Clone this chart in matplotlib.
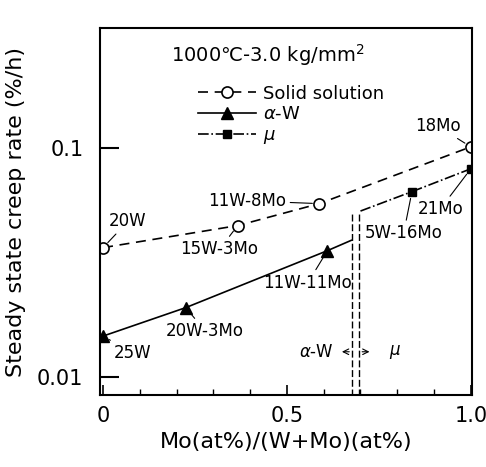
import matplotlib
matplotlib.use('Agg')
import matplotlib.pyplot as plt
import numpy as np

# solid solution (open circles, dashed)
ss_x = [0.0, 0.366, 0.588, 1.0]
ss_y = [0.0367, 0.0458, 0.0571, 0.101]
ss_lab = ['20W', '15W-3Mo', '11W-8Mo', '18Mo']

# alpha-W (filled triangles, solid)
aw_x = [0.0, 0.225, 0.61]
aw_y = [0.0151, 0.0201, 0.0356]
aw_lab = ['25W', '20W-3Mo', '11W-11Mo']
aw_end = (0.675, 0.0395)

# mu phase (filled squares, dash-dot)
mu_x = [0.84, 1.0]
mu_y = [0.0644, 0.081]
mu_lab = ['5W-16Mo', '21Mo']
mu_start = (0.70, 0.053)

# alpha-W / mu boundary
bnd_x = [0.677, 0.697]
bnd_top = 0.052

fig = plt.figure(figsize=(4.86, 4.67), dpi=100)
ax = fig.add_axes([0.206, 0.154, 0.765, 0.786])

ax.plot(ss_x, ss_y, 'k--', lw=1.2, dashes=(6, 4), marker='o', ms=8,
        mfc='white', mec='k', mew=1.2, label='Solid solution')
ax.plot(aw_x, aw_y, 'k-', lw=1.2, marker='^', ms=8, mfc='k', mec='k',
        label=r'$\alpha$-W')
ax.plot([aw_x[-1], aw_end[0]], [aw_y[-1], aw_end[1]], 'k-', lw=1.2)
ax.plot(mu_x, mu_y, 'k-.', lw=1.2, marker='s', ms=6, mfc='k', mec='k',
        label=r'$\mu$')
ax.plot([mu_start[0], mu_x[0]], [mu_start[1], mu_y[0]], 'k-.', lw=1.2)

for bx in bnd_x:
    ax.plot([bx, bx], [0.0083, bnd_top], 'k--', lw=1.0, dashes=(5, 2))

ax.set_yscale('log')
ax.set_xlim(-0.008, 1.003)
ax.set_ylim(0.00835, 0.333)
ax.set_yticks([0.01, 0.1])
ax.set_yticklabels(['0.01', '0.1'])
ax.yaxis.set_minor_locator(matplotlib.ticker.NullLocator())
ax.set_xticks([0, 0.5, 1.0])
ax.set_xticklabels(['0', '0.5', '1.0'])
ax.set_xticks(np.arange(0.1, 1.0, 0.1), minor=True)
ax.tick_params(axis='y', direction='in', length=14, width=1.5, labelsize=15, pad=12)
ax.tick_params(axis='x', which='major', direction='in', length=7, width=1.2, labelsize=15, pad=8)
ax.tick_params(axis='x', which='minor', direction='in', length=4, width=1.0)
for s in ax.spines.values():
    s.set_linewidth(1.5)

ax.set_xlabel('Mo(at%)/(W+Mo)(at%)', fontsize=16, labelpad=4)
ax.set_ylabel('Steady state creep rate (%/h)', fontsize=16, labelpad=8)

ax.text(0.45, 0.926, r'1000℃-3.0 kg/mm$^2$', transform=ax.transAxes,
        ha='center', va='center', fontsize=14)

ax.legend(loc='upper left', bbox_to_anchor=(0.24, 0.87), frameon=False,
          fontsize=13, handlelength=3.2, handletextpad=0.4, labelspacing=0.15,
          borderpad=0)

# point labels (text offsets in points)
offs_ss = [(18, 19), (-13, -17), (-52, 2), (-24, 15)]
offs_aw = [(21, -12), (14, -17), (-14, -23)]
offs_mu = [(-6, -30), (-22, -29)]
for xs, ys, labs, offs in [(ss_x, ss_y, ss_lab, offs_ss),
                           (aw_x, aw_y, aw_lab, offs_aw),
                           (mu_x, mu_y, mu_lab, offs_mu)]:
    for x, y, t, o in zip(xs, ys, labs, offs):
        ax.annotate(t, (x, y), xytext=o, textcoords='offset points',
                    ha='center', va='center', fontsize=12,
                    arrowprops=dict(arrowstyle='-', lw=0.8, color='k',
                                    shrinkA=1, shrinkB=5))

ax.text(bnd_x[0] - 0.05, 0.0129, r'$\alpha$-W', ha='right', va='center', fontsize=12)
ax.annotate('', xy=(bnd_x[0] - 0.035, 0.0129), xytext=(bnd_x[0], 0.0129),
            arrowprops=dict(arrowstyle='->', lw=0.8))
ax.annotate('', xy=(bnd_x[1] + 0.035, 0.0129), xytext=(bnd_x[1], 0.0129),
            arrowprops=dict(arrowstyle='->', lw=0.8))
ax.text(bnd_x[1] + 0.08, 0.0129, r'$\mu$', ha='left', va='center', fontsize=12)

fig.savefig('out.png', dpi=100)
